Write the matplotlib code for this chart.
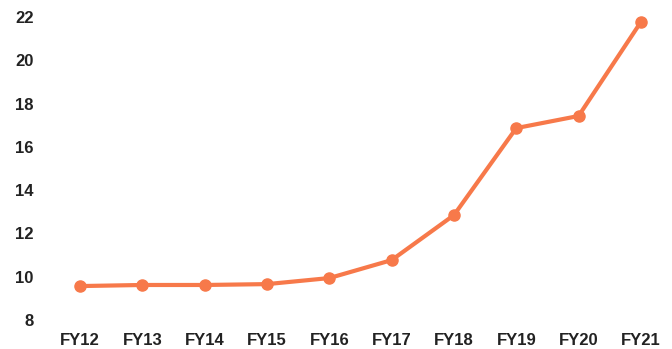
import matplotlib.pyplot as plt

# Yearly values
years = ['FY12', 'FY13', 'FY14', 'FY15', 'FY16', 'FY17', 'FY18', 'FY19', 'FY20', 'FY21']
values = [9.57, 9.62, 9.62, 9.66, 9.94, 10.77, 12.85, 16.87, 17.43, 21.77]
yticks = [8, 10, 12, 14, 16, 18, 20, 22]

plt.rcParams['font.family'] = ['Liberation Sans', 'DejaVu Sans']

fig = plt.figure(figsize=(6.72, 3.49), dpi=100)
ax = fig.add_axes([0.073, 0.083, 0.927, 0.868])

ax.plot(range(len(years)), values, color='#F7794A', linewidth=3,
        marker='o', markersize=8, solid_capstyle='round', clip_on=False)

ax.set_xlim(-0.5, len(years) - 0.5)
ax.set_ylim(8, 22)
ax.set_xticks(range(len(years)))
ax.set_xticklabels(years)
ax.set_yticks(yticks)
ax.tick_params(axis='both', length=0, labelsize=12, colors='#222222')
ax.tick_params(axis='y', pad=11)
ax.tick_params(axis='x', pad=9)
for lbl in ax.get_xticklabels() + ax.get_yticklabels():
    lbl.set_fontweight('bold')
for s in ax.spines.values():
    s.set_visible(False)

fig.savefig('out.png', dpi=100)
